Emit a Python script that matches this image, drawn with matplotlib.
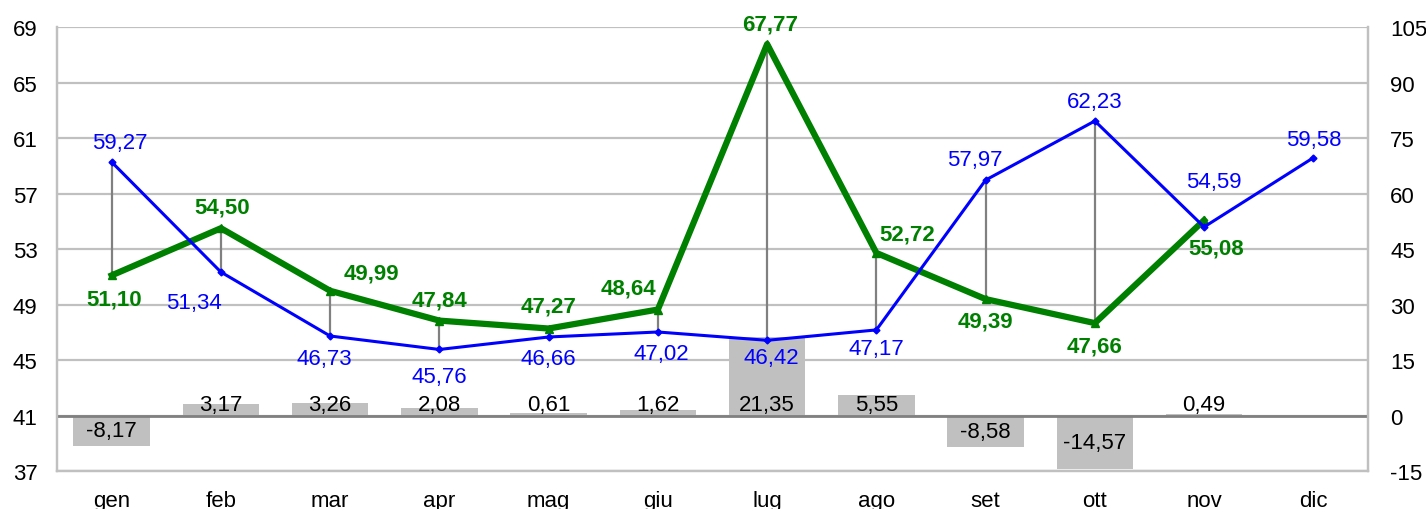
import numpy as np
import matplotlib.pyplot as plt

plt.rcParams['font.family'] = ['Liberation Sans', 'DejaVu Sans']
plt.rcParams['axes.unicode_minus'] = False

# Monthly series
mesi = ['gen', 'feb', 'mar', 'apr', 'mag', 'giu', 'lug', 'ago', 'set', 'ott', 'nov', 'dic']
blu = [59.27, 51.34, 46.73, 45.76, 46.66, 47.02, 46.42, 47.17, 57.97, 62.23, 54.59, 59.58]
verde = [51.10, 54.50, 49.99, 47.84, 47.27, 48.64, 67.77, 52.72, 49.39, 47.66, 55.08, np.nan]
diff = [-8.17, 3.17, 3.26, 2.08, 0.61, 1.62, 21.35, 5.55, -8.58, -14.57, 0.49, np.nan]

# label offsets in pixels (dx, dy) from each point
off_blu = [(8, 20), (-27, -30), (-6, -22), (0, -27), (0, -22), (3, -22),
           (4, -17), (0, -19), (-11, 21), (0, 19), (10, 45), (0, 18)]
off_verde = [(2, -24), (1, 21), (41, 18), (0, 21), (0, 23), (-29, 22),
             (3, 20), (31, 19), (0, -22), (0, -23), (12, -28), (0, 0)]

FS = 16

def fmt(v):
    return f'{v:.2f}'.replace('.', ',')

fig = plt.figure(figsize=(14.26, 5.10), dpi=100)
ax = fig.add_axes([0.040, 0.0745, 0.9193, 0.8705])
ax2 = ax.twinx()
x = np.arange(len(mesi))

# bars on the right scale
grigio = '#c0c0c0'
ax.set_ylim(-15, 105)
ax.set_xlim(-0.5, 11.5)
ax.set_yticks(np.arange(-15, 106, 15))
ax.grid(axis='y', color=grigio, lw=1.6)
ax.set_axisbelow(True)
ax.bar(x, diff, width=0.7, color=grigio, zorder=2)
ax.axhline(0, color='#808080', lw=2, zorder=3)
for xi, d in zip(x, diff):
    if np.isnan(d):
        continue
    if d >= 0:
        ax.annotate(fmt(d), (xi, 0), xytext=(0, 1), textcoords='offset pixels',
                    ha='center', va='bottom', fontsize=FS, color='black', zorder=4)
    else:
        ax.text(xi, d / 2, fmt(d), ha='center', va='center', fontsize=FS,
                color='black', zorder=4)

# lines on the left scale
ax2.set_ylim(37, 69)
ax2.set_yticks(np.arange(37, 70, 4))

# vertical connectors between the two series
for xi, b, v in zip(x, blu, verde):
    if not np.isnan(v):
        ax2.plot([xi, xi], [b, v], color='#808080', lw=1.6, zorder=1)

ax2.plot(x, verde, color='#008000', lw=4.5, marker='^', ms=6, zorder=3)
ax2.plot(x, blu, color='#0000ff', lw=2.2, marker='D', ms=3.5, zorder=4)

for xi, v, o in zip(x, blu, off_blu):
    ax2.annotate(fmt(v), (xi, v), xytext=o, textcoords='offset pixels',
                 ha='center', va='center', fontsize=FS, color='#0000ff', zorder=5)
for xi, v, o in zip(x, verde, off_verde):
    if np.isnan(v):
        continue
    ax2.annotate(fmt(v), (xi, v), xytext=o, textcoords='offset pixels',
                 ha='center', va='center', fontsize=FS, color='#008000',
                 fontweight='bold', zorder=5)

# right scale on the right, left scale on the left
ax.yaxis.tick_right()
ax2.yaxis.tick_left()

ax.set_xticks(x)
ax.set_xticklabels(mesi)
for a in (ax, ax2):
    a.tick_params(length=0, labelsize=FS, colors='black')
    for s in a.spines.values():
        s.set_color(grigio)
        s.set_linewidth(1.6)
    a.spines['top'].set_visible(False)
ax.tick_params(axis='x', pad=14)
ax.tick_params(axis='y', pad=16)
ax2.tick_params(axis='y', pad=14)

fig.savefig('out.png', dpi=100)
